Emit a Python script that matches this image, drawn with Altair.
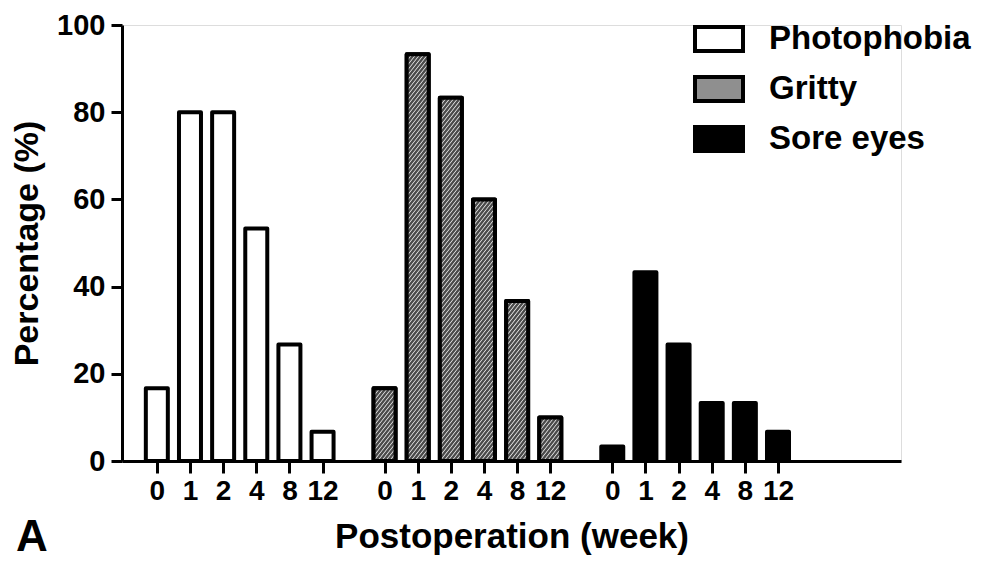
import altair as alt
import pandas as pd

# ---- data ----
groups = ["Photophobia", "Gritty", "Sore eyes"]
weeks = ["0", "1", "2", "4", "8", "12"]
photophobia = [16.7, 80.0, 80.0, 53.3, 26.7, 6.7]
gritty = [16.7, 93.3, 83.3, 60.0, 36.7, 10.0]
sore_eyes = [3.3, 43.3, 26.7, 13.3, 13.3, 6.7]
y_ticks = [0, 20, 40, 60, 80, 100]

series = [photophobia, gritty, sore_eyes]
GROUP_STEP = 6.87
X_DOMAIN = [-0.9, 22.3]
W, H = 779, 436

rows = []
for g, (name, vals) in enumerate(zip(groups, series)):
    for i, (wk, v) in enumerate(zip(weeks, vals)):
        rows.append({"group": name, "week": wk, "value": v, "pos": g * GROUP_STEP + i})
df = pd.DataFrame(rows)
tick_positions = list(df["pos"])

# ---- hatch lines for the Gritty bars (derived from the gritty values) ----
px_x = W / (X_DOMAIN[1] - X_DOMAIN[0])
px_y = H / 100.0
bar_px = 22
hw = (bar_px / 2) / px_x
rise = (bar_px * 1.25) / px_y
step = 5.0 / px_y
hatch = []
for i, v in enumerate(gritty):
    p = 1 * GROUP_STEP + i
    xl = p - hw
    k = 0
    while True:
        y_end = k * step
        y_start = y_end - rise
        if y_start >= v:
            break
        t_lo = max(0.0, (0 - y_start) / rise)
        t_hi = min(1.0, (v - y_start) / rise)
        if t_lo < t_hi:
            hatch.append({
                "x": xl + t_lo * 2 * hw, "y": y_start + t_lo * rise,
                "x2": xl + t_hi * 2 * hw, "y2": y_start + t_hi * rise,
            })
        k += 1
hatch_df = pd.DataFrame(hatch)

FONT = "Liberation Sans"

label_array = "[" + ",".join("'%s'" % w for w in weeks) + "]"

x_enc = alt.X(
    "pos:Q",
    scale=alt.Scale(domain=X_DOMAIN, nice=False, zero=False),
    axis=alt.Axis(
        values=tick_positions,
        labelExpr=label_array + "[round(datum.value) % 7]",
        title="Postoperation (week)",
        grid=False,
        domainColor="black", domainWidth=3,
        tickColor="black", tickWidth=3, tickSize=12,
        labelFont=FONT, labelFontSize=28, labelFontWeight="bold", labelColor="black",
        labelPadding=4, labelFlush=False, labelOverlap=False,
        titleFont=FONT, titleFontSize=35, titleFontWeight="bold", titleColor="black",
        titlePadding=14,
    ),
)
y_enc = alt.Y(
    "value:Q",
    scale=alt.Scale(domain=[0, 100], nice=False),
    axis=alt.Axis(
        values=y_ticks,
        title="Percentage (%)",
        grid=False,
        domainColor="black", domainWidth=3,
        tickColor="black", tickWidth=3, tickSize=11,
        labelFont=FONT, labelFontSize=29, labelFontWeight="bold", labelColor="black",
        labelPadding=6,
        titleFont=FONT, titleFontSize=34, titleFontWeight="bold", titleColor="black",
        titlePadding=12,
    ),
)

base = alt.Chart(df)

bars = base.mark_bar(size=bar_px, stroke="black", strokeWidth=4, strokeJoin="round").encode(
    x=x_enc,
    y=y_enc,
    fill=alt.Fill(
        "group:N",
        scale=alt.Scale(domain=groups, range=["white", "#8f8f8f", "black"]),
        sort=groups,
        legend=alt.Legend(
            title=None,
            orient="none", legendX=571, legendY=-12,
            symbolType="M-1,-0.5H1V0.5H-1Z", symbolSize=2304,
            symbolStrokeColor="black", symbolStrokeWidth=4,
            labelFont=FONT, labelFontSize=33, labelFontWeight="bold", labelColor="black",
            labelOffset=24, rowPadding=4, padding=0, labelLimit=0,
        ),
    ),
)

gritty_white = base.transform_filter(alt.datum.group == "Gritty").mark_bar(
    size=bar_px, fill="white", strokeWidth=0
).encode(x="pos:Q", y="value:Q")

hatch_lines = alt.Chart(hatch_df).mark_rule(color="#4a4a4a", strokeWidth=2.4).encode(
    x="x:Q", x2="x2:Q", y="y:Q", y2="y2:Q"
)

gritty_outline = base.transform_filter(alt.datum.group == "Gritty").mark_bar(
    size=bar_px, fillOpacity=0, stroke="black", strokeWidth=4, strokeJoin="round"
).encode(x="pos:Q", y="value:Q")

panel = alt.Chart(pd.DataFrame({"label": ["A"]})).mark_text(
    font=FONT, fontSize=44, fontWeight="bold", color="black", align="left", baseline="alphabetic"
).encode(x=alt.value(-106), y=alt.value(526), text="label:N")

chart = alt.layer(bars, gritty_white, hatch_lines, gritty_outline, panel).properties(
    width=W, height=H,
    autosize=alt.AutoSizeParams(type="none"),
    padding={"left": 114, "top": 17, "right": 80, "bottom": 94},
).configure_view(stroke=None).configure(background="white")

chart.save("out.html", embed_options={"renderer": "svg", "actions": False})
